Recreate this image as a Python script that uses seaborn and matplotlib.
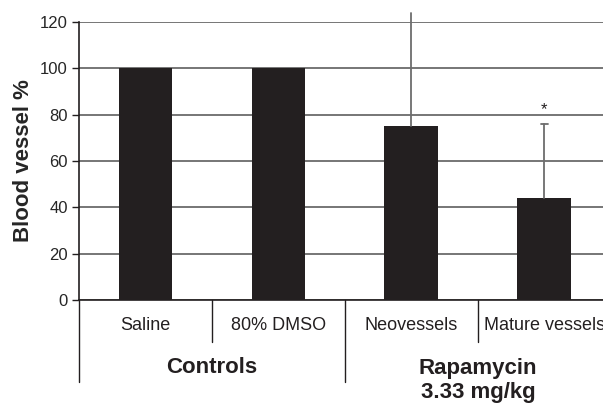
import pandas as pd
import matplotlib.pyplot as plt
import matplotlib.transforms as mtransforms
import seaborn as sns

# Data
categories = ["Saline", "80% DMSO", "Neovessels", "Mature vessels"]
values = [100, 100, 75, 44]
errors = [0, 0, 49, 32]
groups = ["Controls", "Rapamycin\n3.33 mg/kg"]
y_ticks = [0, 20, 40, 60, 80, 100, 120]

df = pd.DataFrame({"category": categories, "value": values})

sns.set_style("white")
plt.rcParams['font.family'] = ['Liberation Sans', 'DejaVu Sans']

fig = plt.figure(figsize=(6.03, 4.04), dpi=100)
ax = fig.add_axes([0.131, 0.2574, 0.882, 0.688])

sns.barplot(data=df, x="category", y="value", color="#231f20", width=0.405,
            saturation=1, ax=ax, zorder=3, edgecolor="none")

# error bars (upper only), cap hidden when it runs past the axis top
err_color = "#6d6d6d"
for i, (v, e) in enumerate(zip(values, errors)):
    if e == 0:
        continue
    ax.plot([i, i], [v, v + e], color=err_color, lw=1.3, clip_on=False, zorder=4)
    if v + e <= 120:
        ax.plot([i - 0.025, i + 0.025], [v + e, v + e], color=err_color, lw=1.3,
                clip_on=False, zorder=4)

# significance star
ax.text(3, 79, "*", ha="center", va="bottom", fontsize=12, color="#231f20")

ax.set_ylim(0, 120)
ax.set_xlim(-0.5, 3.5)
ax.set_yticks(y_ticks)
ax.tick_params(axis="y", labelsize=12, length=5, width=1, color="#231f20",
               left=True, pad=3)
ax.tick_params(axis="x", bottom=False, labelbottom=False)
ax.yaxis.grid(True, color="#5f5f5f", linewidth=1.2, zorder=0)
ax.set_axisbelow(True)
for s in ["top", "right"]:
    ax.spines[s].set_visible(False)
ax.spines["left"].set_color("#231f20")
ax.spines["bottom"].set_color("#231f20")
ax.spines["left"].set_linewidth(1.2)
ax.spines["bottom"].set_linewidth(1.2)

ax.set_xlabel("")
ax.set_ylabel("Blood vessel %", fontsize=16, fontweight="bold", labelpad=4)

# category labels and separators below the axis
trans = mtransforms.blended_transform_factory(ax.transData, ax.transAxes)
for i, c in enumerate(categories):
    ax.text(i, -0.09, c, transform=trans, ha="center", va="center", fontsize=13,
            color="#231f20", clip_on=False)
for x in [0.5, 2.5]:
    ax.plot([x, x], [0, -0.152], transform=trans, color="#231f20", lw=1, clip_on=False)
for x in [-0.5, 1.5, 3.5]:
    ax.plot([x, x], [0, -0.295], transform=trans, color="#231f20", lw=1, clip_on=False)

ax.text(0.5, -0.243, groups[0], transform=trans, ha="center", va="center",
        fontsize=16, fontweight="bold", color="#231f20", clip_on=False)
ax.text(2.5, -0.29, groups[1], transform=trans, ha="center", va="center",
        fontsize=16, fontweight="bold", color="#231f20", clip_on=False,
        linespacing=1.2)

plt.savefig("out.png", dpi=100)
